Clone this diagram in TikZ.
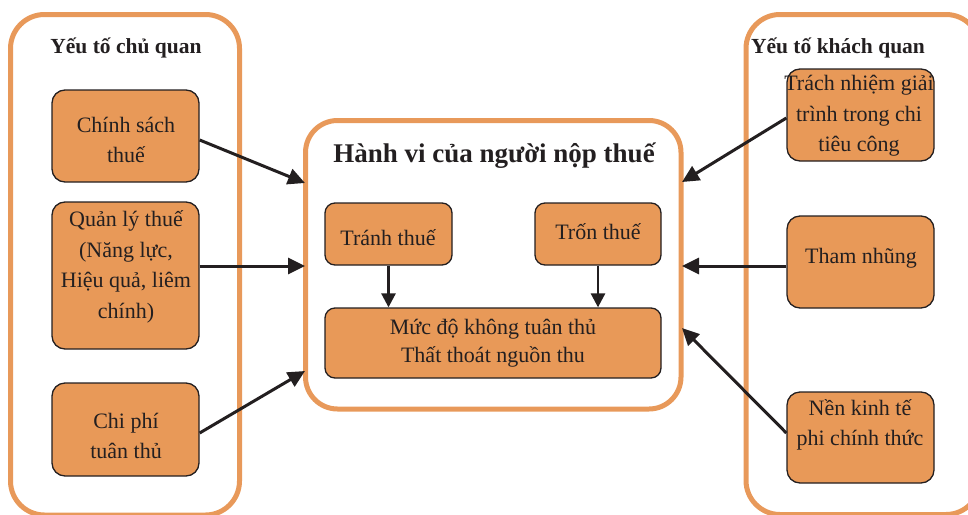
\documentclass[tikz,border=0pt]{standalone}
\usepackage{fontspec}
\setmainfont{Liberation Serif}
\usetikzlibrary{arrows.meta}
\definecolor{boxfill}{RGB}{232,153,88}
\definecolor{frame}{RGB}{232,153,90}
\definecolor{ink}{RGB}{35,31,32}
\tikzset{
  container/.style={draw=frame,line width=5pt,rounded corners=34pt},
  factor/.style={draw=ink,fill=boxfill,line width=1.3pt,rounded corners=13pt,inner sep=0pt},
  label/.style={text=ink,align=center,font=\fontsize{22}{30.5}\selectfont,inner sep=0pt},
  title/.style={text=ink,align=center,font=\fontsize{21.5}{24}\selectfont\bfseries,inner sep=0pt},
  conn/.style={draw=ink,line width=3pt,-{Triangle[length=17pt,width=16pt]}}
}
\begin{document}
\begin{tikzpicture}[x=1pt,y=-1pt]
\useasboundingbox (0,0) rectangle (968,514);
% containers
\draw[container] (10.5,14.5) rectangle (239.5,515);
\draw[container] (746,14.5) rectangle (980,514.5);
\draw[container,rounded corners=32pt] (305.5,120.5) rectangle (681,409);
% titles
\node[title] (tl) at (126,48) {Yếu tố chủ quan};
\node[title] (tr) at (838,48) {Yếu tố khách quan};
\node[title,font=\fontsize{27}{30}\selectfont\bfseries] (tc) at (494,156) {Hành vi của người nộp thuế};
% left boxes
\node[factor,minimum width=147pt,minimum height=92pt] (b1) at (125.5,136) {};
\node[label] at (126,140) {Chính sách\\thuế};
\node[factor,minimum width=147pt,minimum height=147pt] (b2) at (125.5,275.5) {};
\node[label] at (126,267) {Quản lý thuế\\(Năng lực,\\Hiệu quả, liêm\\chính)};
\node[factor,minimum width=147pt,minimum height=93pt] (b3) at (125.5,429.5) {};
\node[label] at (126,436) {Chi phí\\tuân thủ};
% right boxes
\node[factor,minimum width=147pt,minimum height=92pt] (r1) at (860.5,115) {};
\node[label] at (859,116) {Trách nhiệm giải\\trình trong chi\\tiêu công};
\node[factor,minimum width=147pt,minimum height=92pt] (r2) at (860.5,262) {};
\node[label] at (861,258) {Tham nhũng};
\node[factor,minimum width=147pt,minimum height=91pt] (r3) at (860.5,437.5) {};
\node[label] at (860,425) {Nền kinh tế\\phi chính thức};
% center boxes
\node[factor,minimum width=127pt,minimum height=62pt,rounded corners=10pt] (avoid) at (388.5,234) {};
\node[label] at (388,238) {Tránh thuế};
\node[factor,minimum width=126pt,minimum height=62pt,rounded corners=10pt] (evade) at (598,234) {};
\node[label] at (598,232) {Trốn thuế};
\node[factor,minimum width=336pt,minimum height=70pt,rounded corners=10pt] (loss) at (493,343) {};
\node[label,font=\fontsize{22}{27.5}\selectfont] at (493,343) {Mức độ không tuân thủ\\Thất thoát nguồn thu};
% anchors on the centre container
\coordinate (cl1) at (305,183);
\coordinate (cl2) at (305,266);
\coordinate (cl3) at (305,371);
\coordinate (cr1) at (682,182);
\coordinate (cr2) at (682,266);
\coordinate (cr3) at (682,328);
% connectors
\draw[conn] (b1.east |- 0,140) -- (cl1);
\draw[conn] (b2.east |- 0,266) -- (cl2);
\draw[conn] (b3.east |- 0,433) -- (cl3);
\draw[conn] (r1.west |- 0,118) -- (cr1);
\draw[conn] (r2.west |- 0,266) -- (cr2);
\draw[conn] (r3.west |- 0,433) -- (cr3);
\draw[conn,line width=2.7pt,-{Triangle[length=14pt,width=14pt]}] (avoid.south) -- (loss.north -| avoid.south);
\draw[conn,line width=2.7pt,-{Triangle[length=14pt,width=14pt]}] (evade.south) -- (loss.north -| evade.south);
\end{tikzpicture}
\end{document}
